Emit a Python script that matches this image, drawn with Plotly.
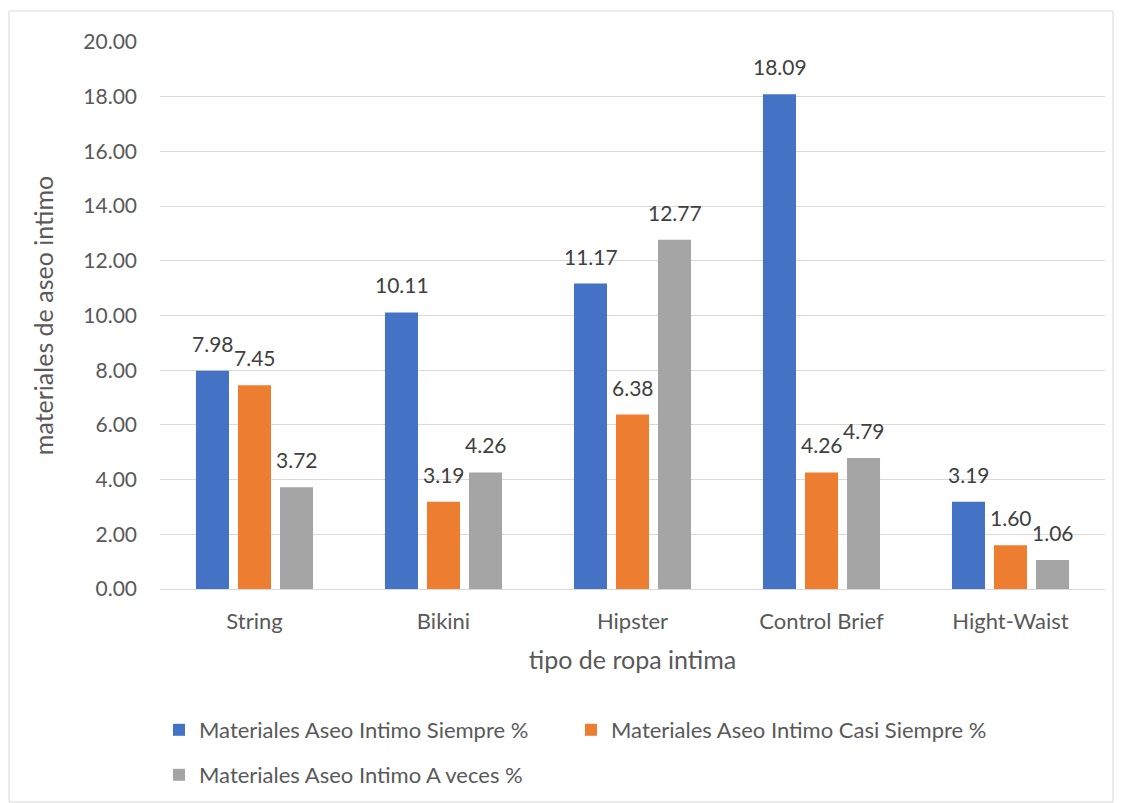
import plotly.graph_objects as go

categories = ["String", "Bikini", "Hipster", "Control Brief", "Hight-Waist"]
siempre = [7.98, 10.11, 11.17, 18.09, 3.19]
casi_siempre = [7.45, 3.19, 6.38, 4.26, 1.60]
a_veces = [3.72, 4.26, 12.77, 4.79, 1.06]
series_names = [
    "Materiales Aseo Intimo Siempre %",
    "Materiales Aseo Intimo Casi Siempre %",
    "Materiales Aseo Intimo A veces %",
]
colors = ["#4472C4", "#ED7D31", "#A5A5A5"]
y_ticks = [0, 2, 4, 6, 8, 10, 12, 14, 16, 18, 20]

FONT = "Lato, Carlito, 'Open Sans', sans-serif"
TXT = "#595959"

# figure geometry (page body has an 8px margin)
W, H = 1115, 795
ML, MR, MT, MB = 152, 18, 34, 214
PW = W - ML - MR
PH = H - MT - MB

def px(X):
    return (X - ML) / PW

def py(Y):
    return (H - MB - Y) / PH

legend_ids = ["legend", "legend2", "legend3"]
fig = go.Figure()
for name, vals, col, lg in zip(series_names, [siempre, casi_siempre, a_veces], colors, legend_ids):
    fig.add_trace(go.Bar(
        x=categories, y=vals, name=name, marker_color=col, marker_line_width=0,
        legend=lg,
    ))

annotations = []
offsets = [-42, 0, 42]
for vals, off in zip([siempre, casi_siempre, a_veces], offsets):
    for cat, v in zip(categories, vals):
        annotations.append(dict(
            x=cat, y=v, xref="x", yref="y", text=f"{v:.2f}", showarrow=False,
            xshift=off, yanchor="bottom", yshift=13,
            font=dict(family=FONT, size=21, color="#404040"),
        ))

legend_common = dict(
    orientation="h", xanchor="left", yanchor="middle",
    font=dict(family=FONT, size=22, color=TXT),
    itemwidth=30, bgcolor="rgba(0,0,0,0)",
)

fig.update_layout(
    width=W, height=H,
    paper_bgcolor="white", plot_bgcolor="white",
    margin=dict(l=ML, r=MR, t=MT, b=MB, autoexpand=False),
    barmode="group", bargap=0.333, bargroupgap=0.214,
    font=dict(family=FONT, color=TXT, size=20),
    showlegend=True,
    legend=dict(x=px(151), y=py(722), **legend_common),
    legend2=dict(x=px(563), y=py(722), **legend_common),
    legend3=dict(x=px(151), y=py(767), **legend_common),
    annotations=annotations,
    xaxis=dict(
        showgrid=False, showline=True, linecolor="#D9D9D9", linewidth=1,
        ticks="", ticklabelstandoff=13,
        tickfont=dict(family=FONT, size=22, color=TXT), automargin=False,
        title=dict(text="tipo de ropa intima", font=dict(family=FONT, size=25, color=TXT), standoff=18),
    ),
    yaxis=dict(
        range=[0, 20], tickvals=y_ticks, ticktext=[f"{v:.2f}" for v in y_ticks],
        showgrid=True, gridcolor="#D9D9D9", gridwidth=1, zeroline=False,
        showline=False, ticks="", ticklabelstandoff=22, automargin=False,
        tickfont=dict(family=FONT, size=21, color=TXT),
        title=dict(text="materiales de aseo intimo", font=dict(family=FONT, size=25, color=TXT), standoff=22),
    ),
    shapes=[dict(
        type="rect", xref="paper", yref="paper",
        x0=px(1), x1=px(1105), y0=py(794), y1=py(3),
        line=dict(color="#D9D9D9", width=1), fillcolor="rgba(0,0,0,0)", layer="below",
    )],
)

fig.write_html("out.html")
